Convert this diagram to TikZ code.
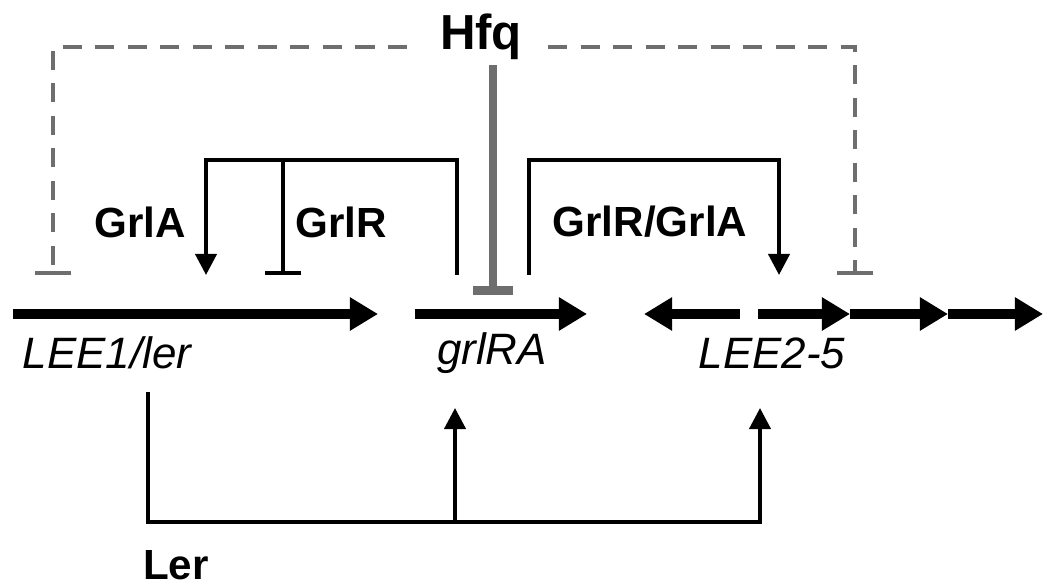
\documentclass[tikz,border=0pt]{standalone}
\usepackage{fontspec}
\setmainfont{Liberation Sans}
\usetikzlibrary{arrows.meta}
\definecolor{hfqgray}{RGB}{110,110,110}
\begin{document}
\begin{tikzpicture}[x=0.02cm,y=-0.02cm,
 gene/.style={line width=6.2pt,-{Triangle[length=16pt,width=18pt]}},
 reg/.style={line width=2.3pt,-{Triangle[length=12pt,width=12pt]}},
 rep/.style={line width=2.3pt,-{Bar[width=21pt]}},
 hfqdash/.style={draw=hfqgray,line width=2.3pt,dash pattern=on 11pt off 7.5pt,-{Bar[width=21pt]}},
 hfqbar/.style={draw=hfqgray,line width=5pt,-{Bar[width=23pt]}},
 prot/.style={font=\bfseries\fontsize{24}{28}\selectfont},
 locus/.style={font=\itshape\fontsize{25}{30}\selectfont}]
\useasboundingbox (0,0) rectangle (1050,587);
% genes
\coordinate (lee1-s) at (13,314); \coordinate (lee1-e) at (378,314);
\coordinate (grl-s) at (415,314); \coordinate (grl-e) at (587,314);
\coordinate (lee2-a) at (740,314); \coordinate (lee2-b) at (644,314);
\coordinate (lee3-s) at (758,314); \coordinate (lee3-e) at (850,314);
\coordinate (lee4-e) at (948,314); \coordinate (lee5-e) at (1043,314);
\draw[gene] (lee1-s) -- (lee1-e);
\draw[gene] (grl-s) -- (grl-e);
\draw[gene] (lee2-a) -- (lee2-b);
\draw[gene] (lee3-s) -- (lee3-e);
\draw[gene] (lee3-e) -- (lee4-e);
\draw[gene] (lee4-e) -- (lee5-e);
\node[locus] (lee1) at (107,353) {LEE1/ler};
\node[locus] (grlra) at (492,353) {grlRA};
\node[locus] (lee2) at (772,353) {LEE2-5};
% GrlR and GrlA
\coordinate (grl-up) at (457,275); \coordinate (grla-hit) at (206,275);
\coordinate (grlr-top) at (283,160); \coordinate (grlr-hit) at (283,275);
\draw[reg] (grl-up) |- (206,160) -- (grla-hit);
\draw[rep] (grlr-top) -- (grlr-hit);
\coordinate (grl-up2) at (529,275); \coordinate (lee2-hit) at (779,275);
\draw[reg] (grl-up2) |- (779,160) -- (lee2-hit);
\node[prot] (grla) at (140,222) {GrlA};
\node[prot] (grlr) at (341,222) {GrlR};
\node[prot] (grlrgrla) at (650,222) {GrlR/GrlA};
% Hfq
\node[font=\bfseries\fontsize{28}{32}\selectfont] (hfq) at (481,37) {Hfq};
\coordinate (hfq-l) at (407,47); \coordinate (hfq-r) at (548,47);
\draw[hfqdash] (hfq-l) -- (53,47) -- (53,275);
\draw[hfqdash] (hfq-r) -- (855,47) -- (855,275);
\coordinate (hfq-s) at (493,65); \coordinate (hfq-hit) at (493,295);
\draw[hfqbar] (hfq-s) -- (hfq-hit);
% Ler
\coordinate (ler-s) at (148,392); \coordinate (ler-j) at (455,522);
\coordinate (grl-hit) at (455,408); \coordinate (lee2-up) at (760,408);
\draw[reg] (ler-s) |- (760,522) -- (lee2-up);
\draw[reg] (ler-j) -- (grl-hit);
\node[prot] (ler) at (176,565) {Ler};
\end{tikzpicture}
\end{document}
